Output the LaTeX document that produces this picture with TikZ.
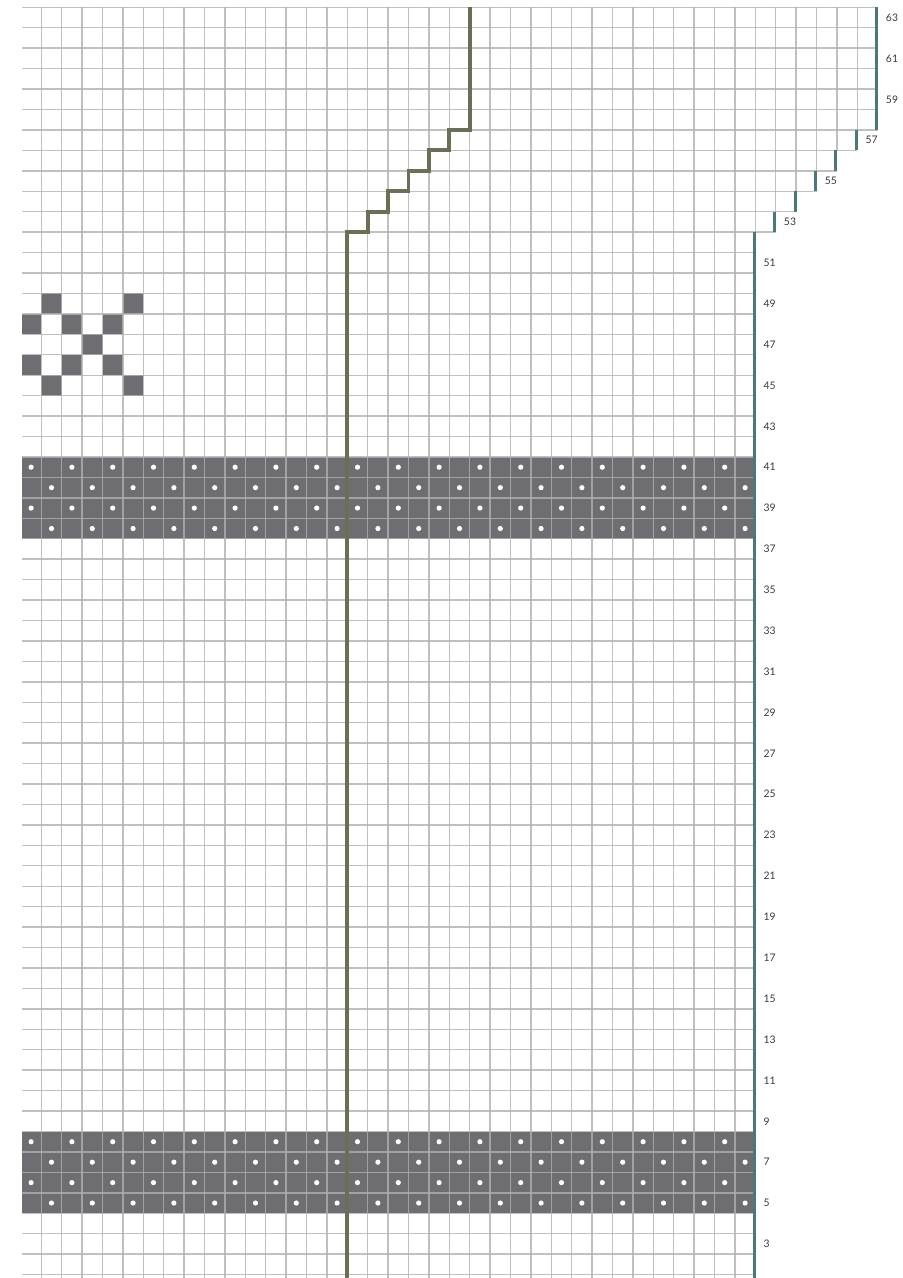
\documentclass[tikz,border=0pt]{standalone}
\usepackage{fontspec}
\setmainfont{Lato}
\definecolor{gridc}{HTML}{B0B0B0}
\definecolor{darkc}{HTML}{6D6D72}
\definecolor{tealc}{HTML}{4D7878}
\definecolor{greenc}{HTML}{687056}
\definecolor{labc}{HTML}{3A3A3A}
\tikzset{
  gridline/.style={draw=gridc, draw opacity=0.8, line width=1.0pt},
  cellfill/.style={fill=darkc},
  stitchdot/.style={fill=white},
  edgebar/.style={draw=tealc, line width=2.1pt},
  centreline/.style={draw=greenc, line width=2.7pt, line join=miter},
  rowlab/.style={anchor=west, inner sep=0pt, text=labc, font=\fontsize{7.4pt}{8pt}\selectfont}
}
\begin{document}
\begin{tikzpicture}[x=0.25mm,y=-0.25mm]
\useasboundingbox (0,0) rectangle (902,1278);
\def\sx{20.4}\def\sy{20.44}\def\ox{41.3}\def\oy{7.3}
\begin{scope}
\clip (22,0) rectangle (902,1278);
% dark bands
\foreach \t/\b in {22/26,55/59}
  \fill[cellfill] ({\ox-\sx},{\oy+\t*\sy}) rectangle ({\ox+35*\sx},{\oy+\b*\sy});
% motif cells
\foreach \c/\r in {0/49,4/49,-1/48,1/48,3/48,2/47,-1/46,1/46,3/46,0/45,4/45}
  \fill[cellfill] ({\ox+\c*\sx},{\oy+(63-\r)*\sy}) rectangle ({\ox+(\c+1)*\sx},{\oy+(64-\r)*\sy});
% dots
\foreach \j/\s in {22/-1,23/0,24/-1,25/0,55/-1,56/0,57/-1,58/0}
  \foreach \i in {0,...,17}{
    \pgfmathsetmacro\c{\s+2*\i}
    \fill[stitchdot] ({\ox+(\c+0.5)*\sx},{\oy+(\j+0.5)*\sy}) circle[radius=0.65mm];
  }
% horizontal grid lines
\foreach \j in {0,...,62}{
  \pgfmathsetmacro\E{\j<7 ? 41 : (\j<12 ? 47-\j : 35)}
  \draw[gridline] (0,{\oy+\j*\sy}) -- ({\ox+\E*\sx},{\oy+\j*\sy});
}
% vertical grid lines
\foreach \k in {0,...,34}
  \draw[gridline] ({\ox+\k*\sx},{\oy}) -- ({\ox+\k*\sx},1278);
\foreach \k in {35,...,40}
  \draw[gridline] ({\ox+\k*\sx},{\oy}) -- ({\ox+\k*\sx},{\oy+(46-\k)*\sy});
% teal edge bars
\draw[edgebar] ({\ox+41*\sx-1},{\oy}) -- ({\ox+41*\sx-1},{\oy+6*\sy});
\foreach \k in {36,...,40}
  \draw[edgebar] ({\ox+\k*\sx-1},{\oy+(46-\k)*\sy}) -- ({\ox+\k*\sx-1},{\oy+(47-\k)*\sy});
\draw[edgebar] ({\ox+35*\sx-1},{\oy+11*\sy}) -- ({\ox+35*\sx-1},1278);
% centre line
\draw[centreline] ({\ox+15*\sx},1278) -- ({\ox+15*\sx},{\oy+11*\sy})
  -- ({\ox+16*\sx},{\oy+11*\sy}) -- ({\ox+16*\sx},{\oy+10*\sy})
  -- ({\ox+17*\sx},{\oy+10*\sy}) -- ({\ox+17*\sx},{\oy+9*\sy})
  -- ({\ox+18*\sx},{\oy+9*\sy}) -- ({\ox+18*\sx},{\oy+8*\sy})
  -- ({\ox+19*\sx},{\oy+8*\sy}) -- ({\ox+19*\sx},{\oy+7*\sy})
  -- ({\ox+20*\sx},{\oy+7*\sy}) -- ({\ox+20*\sx},{\oy+6*\sy})
  -- ({\ox+21*\sx},{\oy+6*\sy}) -- ({\ox+21*\sx},{\oy});
\end{scope}
% row labels
\foreach \r in {3,5,...,63}{
  \pgfmathsetmacro\R{\r>57 ? 41 : (\r>52 ? \r-17 : 35)}
  \node[rowlab] (lab\r) at ({\ox+\R*\sx+8},{\oy+(63.5-\r)*\sy}) {\r};
}
\end{tikzpicture}
\end{document}
